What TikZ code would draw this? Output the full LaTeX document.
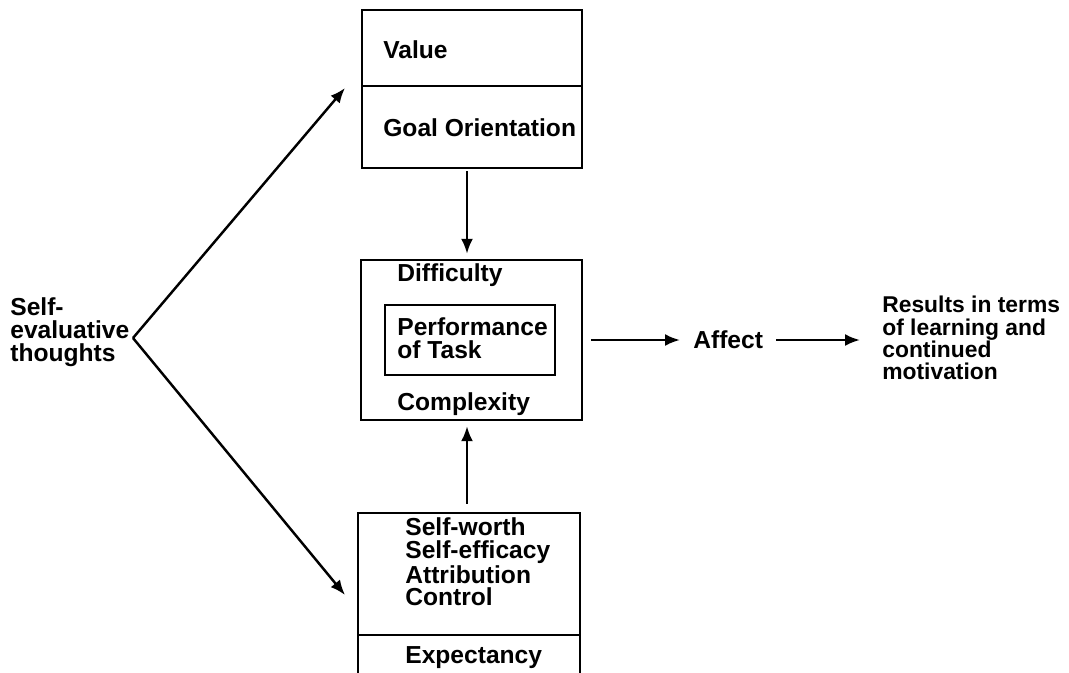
\documentclass[tikz,border=0pt]{standalone}
\usepackage{fontspec}
\setmainfont{Liberation Sans}
\usetikzlibrary{arrows.meta,positioning}
\tikzset{
    box/.style={draw, line width=1.4pt, inner sep=0pt},
    lbl/.style={anchor=west, inner sep=0pt, align=left, font=\fontsize{14}{13}\selectfont\bfseries},
    arr/.style={line width=1.4pt, -{Latex[length=0.3cm,width=0.24cm]}}
}
\begin{document}
\begin{tikzpicture}[x=0.02cm, y=-0.02cm]
    \useasboundingbox (0,0) rectangle (1069,673);
    \clip (0,0) rectangle (1069,673);
    % value / goal orientation
    \node[box, minimum width=4.4cm, minimum height=1.52cm] (valbox) at (472,48) {};
    \node[box, minimum width=4.4cm, minimum height=1.64cm] (goalbox) at (472,127) {};
    \node[lbl] (val) at (383,50) {Value};
    \node[lbl] (goal) at (383,128) {Goal Orientation};
    % task
    \node[box, minimum width=4.42cm, minimum height=3.2cm] (taskbox) at (471.5,340) {};
    \node[box, minimum width=3.4cm, minimum height=1.4cm] (perfbox) at (470,340) {};
    \node[lbl] (diff) at (397,275) {Difficulty};
    \node[lbl] (perf) at (397,338) {Performance\\of Task};
    \node[lbl] (comp) at (397,404) {Complexity};
    % expectancy
    \node[box, minimum width=4.44cm, minimum height=2.44cm] (selfbox) at (469,574) {};
    \node[box, minimum width=4.44cm, minimum height=1.3cm] (expbox) at (469,667.5) {};
    \node[lbl] (self) at (405,562) {Self-worth\\Self-efficacy\\Attribution\\Control};
    \node[lbl] (exp) at (405,658) {Expectancy};
    % left and right
    \node[lbl] (thoughts) at (10,332) {Self-\\evaluative\\thoughts};
    \node[lbl] (affect) at (693,340) {Affect};
    \node[lbl, font=\fontsize{13}{12.6}\selectfont\bfseries] (results) at (882,338) {Results in terms\\of learning and\\continued\\motivation};
    \coordinate (apex) at (133,338);
    \coordinate (uptip) at (345,88);
    \coordinate (downtip) at (345,595);

    \draw[arr] (apex) -- (uptip);
    \draw[arr] (apex) -- (downtip);
    \draw[arr, shorten <=0.04cm, shorten >=0.1cm] (goalbox.south -| 467,0) -- (taskbox.north -| 467,0);
    \draw[arr, shorten <=0.16cm, shorten >=0.1cm] (selfbox.north -| 467,0) -- (taskbox.south -| 467,0);
    \draw[arr, shorten <=0.16cm, shorten >=0.26cm] (taskbox.east) -- (affect.west);
    \draw[arr, shorten <=0.26cm, shorten >=0.44cm] (affect.east) -- (results.west |- affect.east);
\end{tikzpicture}
\end{document}
